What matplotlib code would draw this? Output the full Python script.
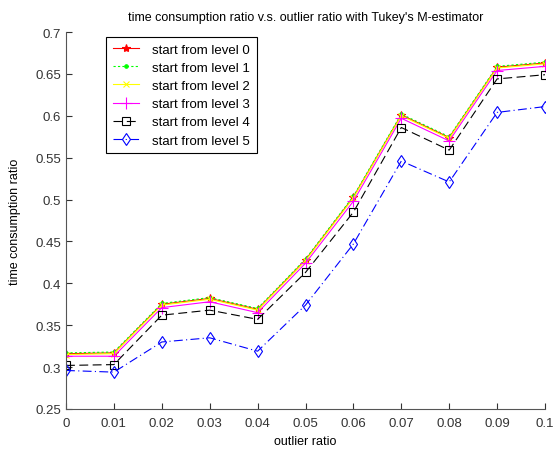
import matplotlib
matplotlib.use("Agg")
import matplotlib.pyplot as plt

x = [0, 0.01, 0.02, 0.03, 0.04, 0.05, 0.06, 0.07, 0.08, 0.09, 0.1]
level0 = [0.316, 0.317, 0.375, 0.382, 0.369, 0.428, 0.503, 0.601, 0.574, 0.658, 0.663]
level1 = [0.317, 0.318, 0.376, 0.383, 0.370, 0.429, 0.504, 0.602, 0.575, 0.659, 0.664]
level2 = [0.315, 0.316, 0.374, 0.381, 0.368, 0.427, 0.502, 0.600, 0.573, 0.657, 0.662]
level3 = [0.313, 0.313, 0.371, 0.378, 0.365, 0.424, 0.498, 0.597, 0.570, 0.654, 0.659]
level4 = [0.302, 0.303, 0.362, 0.368, 0.357, 0.413, 0.485, 0.586, 0.559, 0.644, 0.649]
level5 = [0.296, 0.294, 0.330, 0.335, 0.319, 0.374, 0.447, 0.546, 0.521, 0.604, 0.611]
labels = ["start from level 0", "start from level 1", "start from level 2",
          "start from level 3", "start from level 4", "start from level 5"]
xticks = [0, 0.01, 0.02, 0.03, 0.04, 0.05, 0.06, 0.07, 0.08, 0.09, 0.1]
xticklabels = ["0", "0.01", "0.02", "0.03", "0.04", "0.05", "0.06", "0.07", "0.08", "0.09", "0.1"]
yticks = [0.25, 0.3, 0.35, 0.4, 0.45, 0.5, 0.55, 0.6, 0.65, 0.7]
yticklabels = ["0.25", "0.3", "0.35", "0.4", "0.45", "0.5", "0.55", "0.6", "0.65", "0.7"]

plt.rcParams['font.family'] = ['Liberation Sans', 'DejaVu Sans']
fig = plt.figure(figsize=(5.57, 4.52), dpi=100)
ax = fig.add_axes([66/557, 1-410/452, (545-66)/557, (410-33)/452])

styles = [
    dict(color='#ff0000', linestyle='-', marker='*', markersize=6),
    dict(color='#00ff00', linestyle=(0, (2, 2)), marker='.', markersize=5),
    dict(color='#ffff00', linestyle='-', marker='x', markersize=5),
    dict(color='#ff00ff', linestyle='-', marker='+', markersize=8),
    dict(color='#000000', linestyle=(0, (8, 4)), marker='s', markersize=6, markerfacecolor='none'),
    dict(color='#0000ff', linestyle=(0, (8, 3, 1, 3)), marker='d', markersize=6, markerfacecolor='none'),
]
series = [level0, level1, level2, level3, level4, level5]
for s, lab, st in zip(series, labels, styles):
    ax.plot(x, s, label=lab, linewidth=0.8, markeredgewidth=0.8, **st)

ax.set_xlim(0, 0.1)
ax.set_ylim(0.25, 0.7)
ax.set_xticks(xticks)
ax.set_xticklabels(xticklabels)
ax.set_yticks(yticks)
ax.set_yticklabels(yticklabels)
ax.spines['top'].set_visible(False)
ax.spines['right'].set_visible(False)
for sp in ['left', 'bottom']:
    ax.spines[sp].set_color('#555555')
ax.tick_params(direction='in', length=4, labelsize=9.5, colors='#333333')
ax.tick_params(axis='x', pad=6)
ax.set_xlabel('outlier ratio', fontsize=9, labelpad=4)
ax.set_ylabel('time consumption ratio', fontsize=9, labelpad=10)
ax.set_title("time consumption ratio v.s. outlier ratio with Tukey's M-estimator", fontsize=9, pad=9)
leg = ax.legend(loc='upper left', bbox_to_anchor=(0.0835, 0.987), borderaxespad=0, fontsize=9.5,
                fancybox=False, framealpha=1, edgecolor='black', handlelength=2.0,
                labelspacing=0.45, borderpad=0.5, handletextpad=1.0)
leg.get_frame().set_linewidth(0.8)
fig.savefig('out.png', dpi=100, facecolor='white')
